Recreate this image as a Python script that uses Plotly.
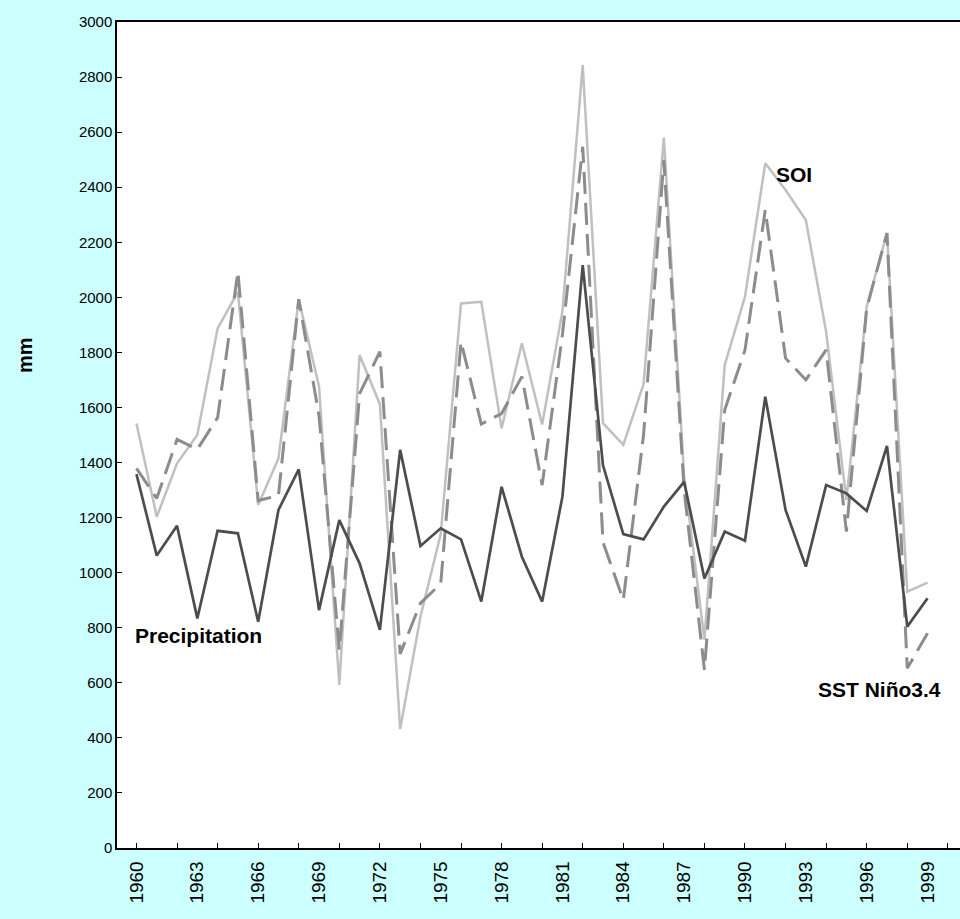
import plotly.graph_objects as go

years = list(range(1960, 2000))

precipitation = [1358, 1062, 1170, 834, 1152, 1143, 822, 1228, 1375, 864,
                 1191, 1034, 792, 1446, 1097, 1161, 1121, 895, 1312, 1058,
                 895, 1276, 2117, 1390, 1140, 1121, 1240, 1330, 979, 1149,
                 1116, 1639, 1228, 1022, 1318, 1288, 1224, 1460, 804, 907]

sst_nino34 = [1379, 1270, 1484, 1448, 1563, 2093, 1262, 1280, 1993, 1570,
              719, 1650, 1803, 705, 889, 960, 1839, 1540, 1578, 1712,
              1318, 1865, 2547, 1110, 901, 1500, 2499, 1300, 647, 1591,
              1809, 2317, 1779, 1700, 1809, 1149, 1960, 2233, 653, 780]

soi = [1542, 1203, 1397, 1500, 1887, 2020, 1246, 1415, 1993, 1676,
       592, 1790, 1612, 432, 840, 1140, 1978, 1984, 1524, 1833,
       1538, 1950, 2844, 1543, 1464, 1685, 2580, 1350, 757, 1754,
       2002, 2487, 2390, 2281, 1875, 1264, 1966, 2233, 931, 964]

label_years = list(range(1960, 2000, 3))

font_family = 'Liberation Sans, Arial, sans-serif'
bg = '#CCFFFF'

fig = go.Figure()

fig.add_trace(go.Scatter(
    x=years, y=soi, mode='lines', name='SOI',
    line=dict(color='#C0C0C0', width=2.5),
))
fig.add_trace(go.Scatter(
    x=years, y=sst_nino34, mode='lines', name='SST Niño3.4',
    line=dict(color='#8C8C8C', width=3, dash='22px,9px'),
))
fig.add_trace(go.Scatter(
    x=years, y=precipitation, mode='lines', name='Precipitation',
    line=dict(color='#4D4D4D', width=2.7),
))

# series labels
fig.add_annotation(x=1959.83, y=770, text='<b>Precipitation</b>', showarrow=False,
                   xanchor='left', yanchor='middle', font=dict(size=21, color='black'))
fig.add_annotation(x=1992.4, y=2445, text='<b>SOI</b>', showarrow=False,
                   xanchor='center', yanchor='middle', font=dict(size=21, color='black'))
fig.add_annotation(x=1996.65, y=574, text='<b>SST Niño3.4</b>', showarrow=False,
                   xanchor='center', yanchor='middle', font=dict(size=21, color='black'))
fig.add_annotation(x=-0.109, y=0.597, xref='paper', yref='paper', text='<b>mm</b>',
                   textangle=-90, showarrow=False, xanchor='center', yanchor='middle',
                   font=dict(size=20, color='black'))

fig.update_xaxes(
    range=[1959.04, 2000.6],
    tickmode='array',
    tickvals=label_years,
    ticktext=[str(y) for y in label_years],
    tickangle=-90,
    ticks='',
    ticklabelstandoff=4,
    showgrid=False,
    zeroline=False,
    showline=True,
    linecolor='black',
    linewidth=1.5,
    mirror=True,
    tickfont=dict(size=19, color='black'),
    minor=dict(tick0=1960, dtick=2, ticks='inside', ticklen=5,
               tickcolor='black', tickwidth=1, showgrid=False),
)

fig.update_yaxes(
    range=[0, 3000],
    dtick=200,
    ticks='inside',
    ticklen=5,
    tickcolor='black',
    showgrid=False,
    zeroline=False,
    showline=True,
    linecolor='black',
    linewidth=1.5,
    tickfont=dict(size=15, color='black'),
)

fig.update_layout(
    width=960,
    height=919,
    paper_bgcolor=bg,
    plot_bgcolor='white',
    showlegend=False,
    margin=dict(l=117, r=0, t=22, b=71),
    font=dict(family=font_family, color='black'),
)

# remove the page margin so the chart fills the window
fig.write_html('out.html',
               config={'displayModeBar': False},
               post_script="document.body.style.margin='0';"
                           "document.body.style.background='%s';"
                           "document.body.style.overflow='hidden';" % bg)
